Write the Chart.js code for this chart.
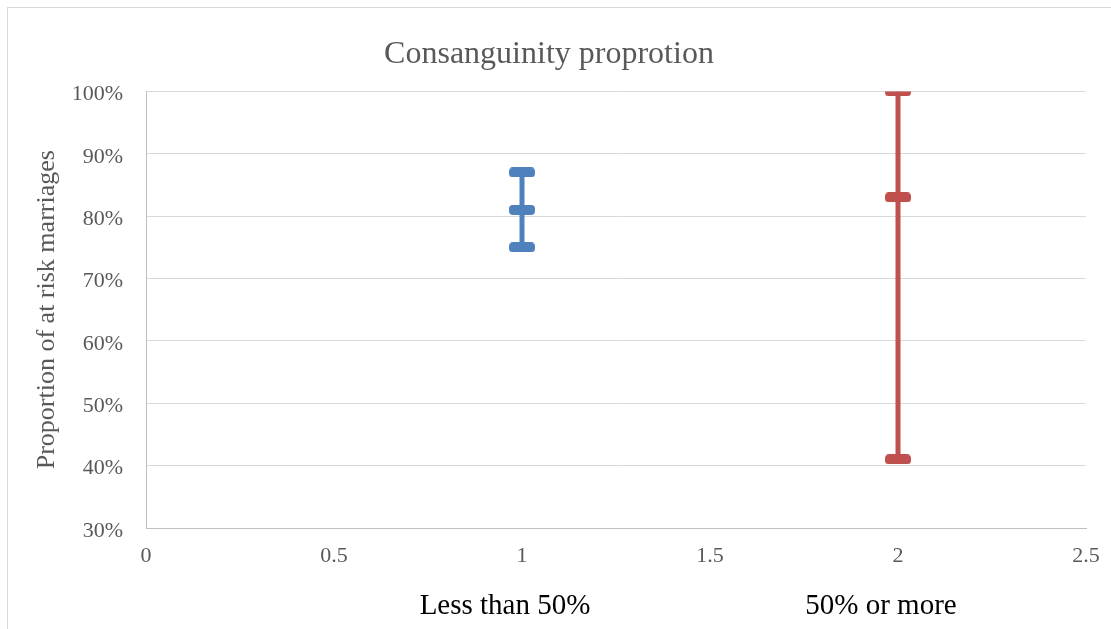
<!DOCTYPE html>
<html>
<head>
<meta charset="utf-8">
<title>Consanguinity proprotion</title>
<script src="https://cdn.jsdelivr.net/npm/chart.js"></script>
<style>
  body { margin: 0; background: #fff; }
  #wrap { position: relative; width: 1111px; height: 629px; }
  #myChart { position: absolute; left: 0; top: 0; }
  #frame { position: absolute; left: 7px; top: 7px; right: 0; bottom: 0;
           border-left: 1px solid #d9d9d9; border-top: 1px solid #d9d9d9; pointer-events: none; }
</style>
</head>
<body>
<div id="wrap">
  <canvas id="myChart" width="1111" height="629"></canvas>
  <div id="frame"></div>
</div>
<script>
// data
let groups = ['Less than 50%', '50% or more'];
let xPos = [1, 2];
let mid = [0.81, 0.83];
let low = [0.75, 0.41];
let high = [0.87, 1.00];
let colors = ['#4F81BD', '#C0504D'];

let serif = "'Liberation Serif', 'Times New Roman', serif";
let grey = '#595959';

// rounded bar used as the error bar cap / marker
function capImage(color) {
  let c = document.createElement('canvas');
  c.width = 26;
  c.height = 10;
  let ctx = c.getContext('2d');
  ctx.fillStyle = color;
  ctx.beginPath();
  ctx.roundRect(0, 0, 26, 10, 4);
  ctx.fill();
  return c;
}

let datasets = [];
groups.forEach((g, i) => {
  // whisker line from low to high
  datasets.push({
    label: g + ' range',
    showLine: true,
    data: [{ x: xPos[i], y: low[i] }, { x: xPos[i], y: high[i] }],
    borderColor: colors[i],
    borderWidth: 5,
    borderCapStyle: 'butt',
    pointRadius: 0
  });
  // caps at low, mid, high
  datasets.push({
    label: g,
    data: [{ x: xPos[i], y: low[i] }, { x: xPos[i], y: mid[i] }, { x: xPos[i], y: high[i] }],
    pointStyle: capImage(colors[i]),
    pointRadius: 5,
    showLine: false
  });
});

// group names written under the x axis
let groupLabels = {
  id: 'groupLabels',
  afterDraw(chart) {
    let ctx = chart.ctx;
    let x = chart.scales.x;
    ctx.save();
    ctx.font = '29px ' + serif;
    ctx.fillStyle = '#000';
    ctx.textAlign = 'center';
    ctx.textBaseline = 'middle';
    groups.forEach((g, i) => {
      ctx.fillText(g, x.getPixelForValue(xPos[i]) - 17, 606);
    });
    ctx.restore();
  }
};

let chart = new Chart(document.getElementById('myChart'), {
  type: 'scatter',
  data: { datasets: datasets },
  plugins: [groupLabels],
  options: {
    responsive: false,
    animation: false,
    devicePixelRatio: 1,
    layout: { padding: { left: 12, right: 25, top: 4, bottom: 0 } },
    plugins: {
      legend: { display: false },
      tooltip: { enabled: false },
      title: {
        display: true,
        text: 'Consanguinity proprotion',
        color: grey,
        font: { family: serif, size: 32, weight: 'normal' },
        padding: { top: 31, bottom: 18 }
      }
    },
    scales: {
      x: {
        type: 'linear',
        min: 0,
        max: 2.5,
        afterFit(s) {
          s.height = 101;
          // let the 2.5 label hang into the right padding
          s.paddingRight = 0;
          s.paddingLeft = 0;
        },
        ticks: {
          stepSize: 0.5,
          color: grey,
          padding: 15,
          font: { family: serif, size: 22 },
          callback: v => String(v)
        },
        grid: { display: false, drawTicks: false },
        border: { display: true, color: '#bfbfbf', width: 1 }
      },
      y: {
        min: 0.3,
        max: 1,
        afterFit(s) { s.width = 134; },
        ticks: {
          stepSize: 0.1,
          color: grey,
          padding: 23,
          labelOffset: 3,
          font: { family: serif, size: 22 },
          callback: v => Math.round(v * 100) + '%'
        },
        grid: { color: '#d9d9d9', drawTicks: false },
        border: { display: true, color: '#bfbfbf', width: 1 },
        title: {
          display: true,
          text: 'Proportion of at risk marriages',
          color: grey,
          font: { family: serif, size: 26 },
          padding: { top: 20, bottom: 0 }
        }
      }
    }
  }
});
</script>
</body>
</html>
